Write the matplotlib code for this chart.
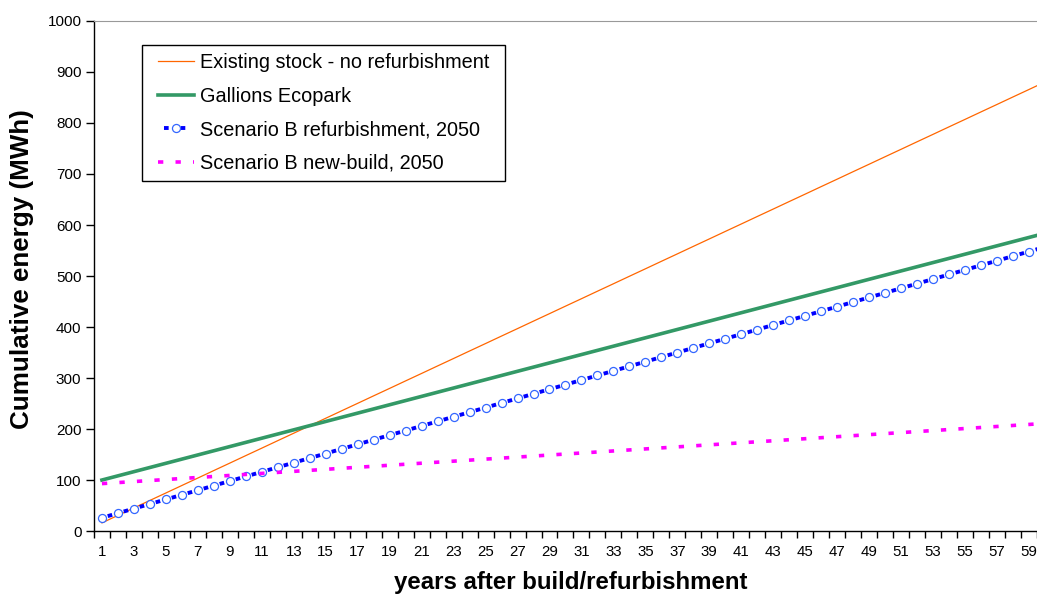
import matplotlib
matplotlib.use("Agg")
import matplotlib.pyplot as plt
from matplotlib.patches import Rectangle

plt.rcParams['font.family'] = ['Liberation Sans', 'DejaVu Sans']

# the source chart runs on past year 59, only the start of year 60 is visible
years = list(range(1, 61))

existing_stock = [
    16.0, 30.7, 45.3, 60.0, 74.6, 89.3, 103.9, 118.6, 133.2, 147.9,
    162.5, 177.2, 191.8, 206.5, 221.1, 235.8, 250.4, 265.1, 279.7, 294.4,
    309.0, 323.7, 338.3, 353.0, 367.6, 382.3, 396.9, 411.6, 426.2, 440.9,
    455.5, 470.2, 484.8, 499.5, 514.1, 528.8, 543.4, 558.1, 572.7, 587.4,
    602.0, 616.7, 631.3, 646.0, 660.6, 675.3, 689.9, 704.6, 719.2, 733.9,
    748.5, 763.2, 777.8, 792.5, 807.1, 821.8, 836.4, 851.1, 865.7, 880.4,
]

gallions = [
    100.0, 108.2, 116.4, 124.6, 132.8, 141.0, 149.2, 157.4, 165.6, 173.8,
    182.0, 190.2, 198.4, 206.6, 214.8, 223.0, 231.2, 239.4, 247.6, 255.8,
    264.0, 272.2, 280.4, 288.6, 296.8, 305.0, 313.2, 321.4, 329.6, 337.8,
    346.0, 354.2, 362.4, 370.6, 378.8, 387.0, 395.2, 403.4, 411.6, 419.8,
    428.0, 436.2, 444.4, 452.6, 460.8, 469.0, 477.2, 485.4, 493.6, 501.8,
    510.0, 518.2, 526.4, 534.6, 542.8, 551.0, 559.2, 567.4, 575.6, 583.8,
]

refurb_b = [
    26, 35, 44, 53, 62, 71, 80, 89, 98, 107,
    116, 125, 134, 143, 152, 161, 170, 179, 188, 197,
    206, 215, 224, 233, 242, 251, 260, 269, 278, 287,
    296, 305, 314, 323, 332, 341, 350, 359, 368, 377,
    386, 395, 404, 413, 422, 431, 440, 449, 458, 467,
    476, 485, 494, 503, 512, 521, 530, 539, 548, 557,
]

newbuild_b = [
    93, 95, 97, 99, 101, 103, 105, 107, 109, 111,
    113, 115, 117, 119, 121, 123, 125, 127, 129, 131,
    133, 135, 137, 139, 141, 143, 145, 147, 149, 151,
    153, 155, 157, 159, 161, 163, 165, 167, 169, 171,
    173, 175, 177, 179, 181, 183, 185, 187, 189, 191,
    193, 195, 197, 199, 201, 203, 205, 207, 209, 211,
]

tick_labels = [str(y) for y in years[:59:2]]

fig = plt.figure(figsize=(10.37, 5.96), dpi=100)
ax = fig.add_axes([0.0906, 0.109, 0.9094, 0.8558])

ax.plot(years, existing_stock, color='#FF6600', linewidth=0.9,
        label='Existing stock - no refurbishment')
ax.plot(years, gallions, color='#339966', linewidth=2.6,
        label='Gallions Ecopark')
# dash period tuned so one dash falls between each pair of markers
ax.plot(years, refurb_b, color='#0000FF', linewidth=2.8,
        linestyle=(2.74, (1.2, 3.08)),
        marker='o', markersize=5.8, markerfacecolor='white',
        markeredgecolor='#3366FF', markeredgewidth=0.9,
        label='Scenario B refurbishment, 2050')
ax.plot(years, newbuild_b, color='#FF00FF', linewidth=2.6,
        linestyle=(0, (1.47, 3.38)),
        label='Scenario B new-build, 2050')

ax.set_xlim(0.5, 59.44)
ax.set_ylim(0, 1000)
ax.set_yticks(range(0, 1001, 100))
ax.set_xticks([y + 0.5 for y in range(0, 60)])
ax.set_xticklabels([])
ax.set_xticks(years[:59:2], minor=True)
ax.set_xticklabels(tick_labels, minor=True)
ax.tick_params(axis='x', which='major', direction='out', length=5, width=1)
ax.tick_params(axis='x', which='minor', length=0, pad=10, labelsize=10.8)
ax.tick_params(axis='y', direction='out', length=6, width=1, labelsize=11, pad=3)

ax.spines['right'].set_visible(False)
ax.spines['top'].set_color('#999999')
ax.spines['left'].set_linewidth(1)
ax.spines['bottom'].set_linewidth(1)

ax.set_xlabel('years after build/refurbishment', fontsize=17.3, fontweight='bold')
ax.set_ylabel('Cumulative energy (MWh)', fontsize=18.7, fontweight='bold')
# the plot area of the original is cut off on the right, so the titles sit off-centre
ax.xaxis.set_label_coords(0.506, -0.079)
ax.yaxis.set_label_coords(-0.064, 0.514)

leg = ax.legend(loc='upper left', bbox_to_anchor=(0.0594, 0.953), borderaxespad=0,
                fontsize=14.3, frameon=False,
                handlelength=1.8, handletextpad=0.3, labelspacing=0.74,
                borderpad=0.4, numpoints=1)
leg.set_zorder(6)

# frame drawn by hand: wider side margins than the legend's own borderpad gives
fig.canvas.draw()
ext = leg.get_window_extent()
pad_x = 8
inv = ax.transAxes.inverted()
(x0, y0), (x1, y1) = inv.transform([(ext.x0 - pad_x, ext.y0),
                                    (ext.x1 + pad_x, ext.y1)])
box = Rectangle((x0, y0), x1 - x0, y1 - y0, transform=ax.transAxes,
                facecolor='white', edgecolor='black', linewidth=1, zorder=5)
ax.add_patch(box)

fig.savefig('out.png', dpi=100)
